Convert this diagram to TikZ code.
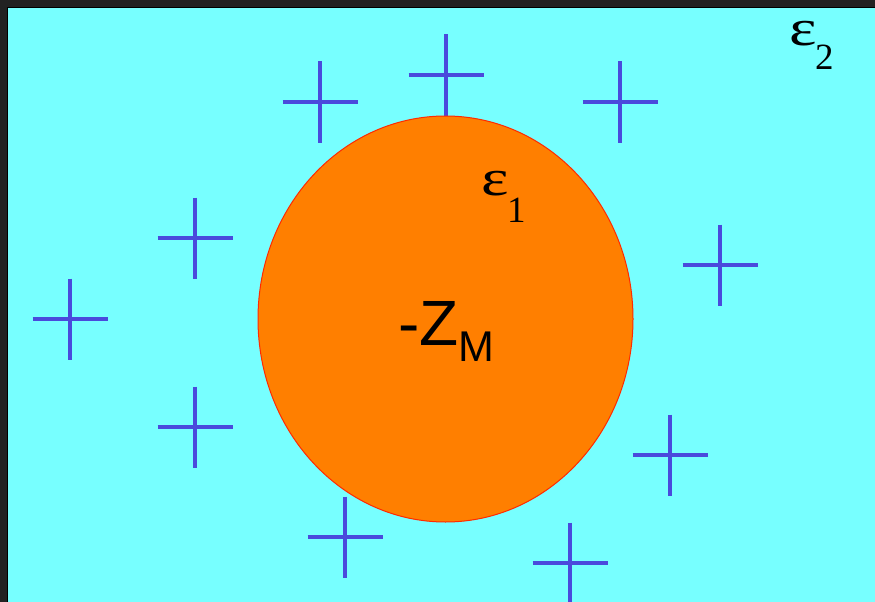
\documentclass[tikz,border=0pt]{standalone}
\usetikzlibrary{shapes.geometric}
\usepackage{fontspec}
\setmainfont{Liberation Serif}
\newfontfamily\arialf{Liberation Sans}
\definecolor{frame}{HTML}{222222}
\definecolor{sea}{HTML}{77FFFF}
\definecolor{crossblue}{HTML}{4A4ADC}
\definecolor{ball}{HTML}{FF7F00}
\definecolor{rim}{HTML}{FF2A00}
\tikzset{
  crossline/.style={draw=crossblue, line width=4pt},
  lbl/.style={inner sep=0pt, anchor=base west, text=black}
}
\newcommand{\plusmark}[2]{%
  \draw[crossline] (#1-37.5,#2) -- (#1+37.5,#2);
  \draw[crossline] (#1,#2-40.5) -- (#1,#2+40.5);
}
\newcommand{\bigeps}{\fontsize{46}{46}\selectfont\scalebox{1.42}[1.12]{ε}}
\newcommand{\subdig}[1]{\fontsize{37}{37}\selectfont #1}
\begin{document}
\begin{tikzpicture}[x=1pt,y=-1pt]
\useasboundingbox (0,0) rectangle (875,602);
\fill[frame] (0,0) rectangle (875,602);
\fill[sea] (7,7) rectangle (875,602);
\draw[black, line width=1.2pt] (7.5,602) -- (7.5,7.5) -- (875,7.5);
% crosses
\plusmark{320}{102}
\plusmark{446}{75}
\plusmark{620}{102}
\plusmark{195}{238}
\plusmark{720}{265}
\plusmark{70}{319}
\plusmark{195}{427}
\plusmark{670}{455}
\plusmark{345}{537}
\plusmark{570}{563}
% sphere
\node[draw=rim, fill=ball, line width=1pt, ellipse, minimum width=375pt, minimum height=406pt, inner sep=0pt] (sphere) at (445.5,319) {};
% labels
\node[lbl] (eps2) at (789,46) {\bigeps};
\node[lbl] (eps2sub) at (815,70) {\subdig{2}};
\node[lbl] (eps1) at (481,195) {\bigeps};
\node[lbl] (eps1sub) at (507,222) {\subdig{1}};
\node[lbl] (zm) at (398,345) {\arialf\fontsize{64}{64}\selectfont -Z\raisebox{-16pt}{\fontsize{43}{43}\selectfont M}};
\end{tikzpicture}
\end{document}
